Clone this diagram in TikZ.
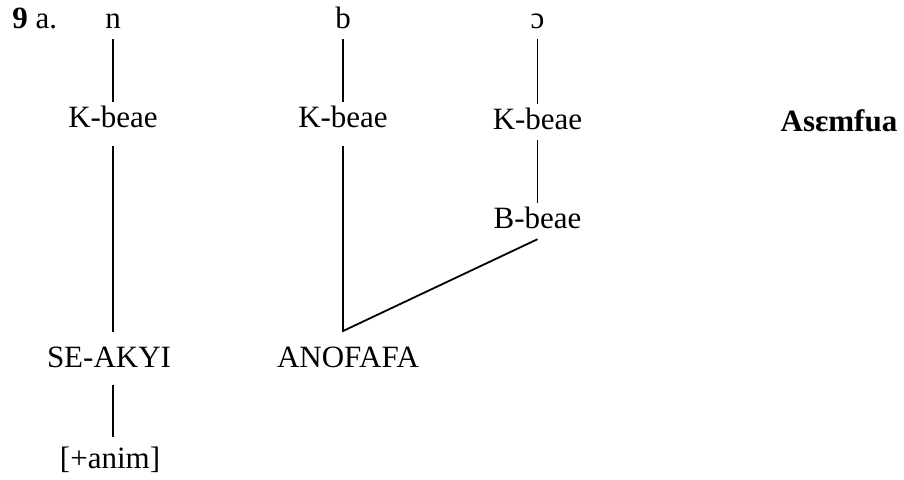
\documentclass[tikz,border=0pt]{standalone}
\usepackage{fontspec}
\setmainfont{Liberation Serif}
\usepackage{tikz}
\tikzset{
  lbl/.style={font=\rmfamily\fontsize{15.5}{18}\selectfont, inner xsep=0pt, inner ysep=2pt,
    text height=10.2pt, text depth=3.4pt, anchor=base},
  tree/.style={line width=0.9pt, black}
}

\begin{document}
\begin{tikzpicture}[x=0.5pt,y=-0.5pt]
  \useasboundingbox (0,0) rectangle (904,479);
  \node[lbl, anchor=base west] (num) at (12,28) {\textbf{9} a.};
  \node[lbl] (n) at (113,28) {n};
  \node[lbl] (b) at (343,28) {b};
  \node[lbl] (o) at (537.5,28) {ɔ};
  \node[lbl] (kbn) at (113,127) {K-beae};
  \node[lbl] (kbb) at (343,127) {K-beae};
  \node[lbl] (kbo) at (537.5,129) {K-beae};
  \node[lbl] (bbo) at (537.5,228) {B-beae};
  \node[lbl, font=\rmfamily\fontsize{15.5}{18}\selectfont\bfseries] (asem) at (839,131) {Asɛmfua};
  \node[lbl] (seakyi) at (109,367) {SE-AKYI};
  \node[lbl] (anim) at (110,468) {[+anim]};
  \node[lbl] (anof) at (348,367) {ANOFAFA};
  \coordinate (jn) at (343,331);
  \draw[tree] (n) -- (kbn);
  \draw[tree] (b) -- (kbb);
  \draw[tree] (o) -- (kbo);
  \draw[tree, shorten <=4pt, shorten >=5pt] (kbn.south) -- (kbn.south |- seakyi.north);
  \draw[tree, shorten <=3.5pt, shorten >=3.3pt] (kbn.south |- seakyi.south) -- (kbn.south |- anim.north);
  \draw[tree] (kbo) -- (bbo);
  \draw[tree, shorten <=4pt] (kbb.south) -- (jn) -- (bbo.south);
\end{tikzpicture}
\end{document}
